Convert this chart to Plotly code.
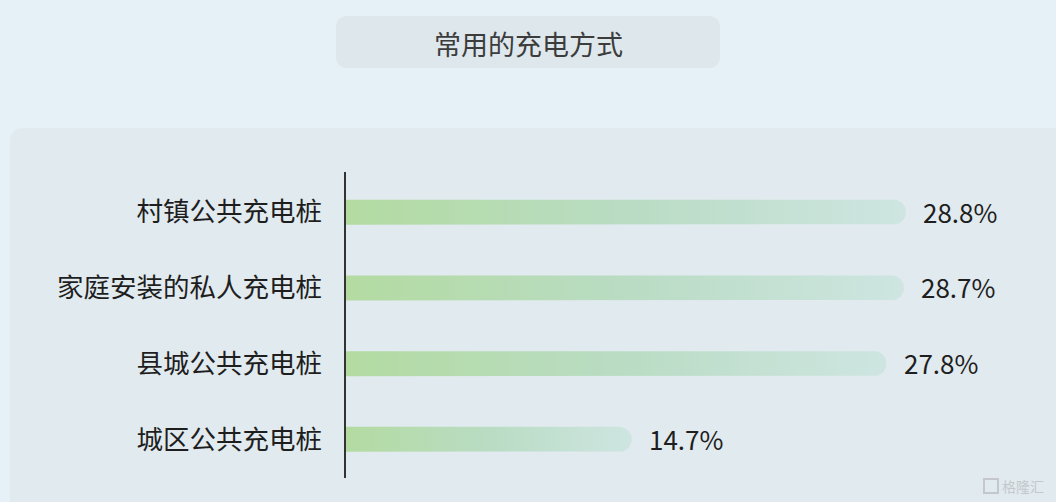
import numpy as np
import plotly.graph_objects as go

# ---- data ----
categories = ["村镇公共充电桩", "家庭安装的私人充电桩", "县城公共充电桩", "城区公共充电桩"]
values = [28.8, 28.7, 27.8, 14.7]
value_labels = ["28.8%", "28.7%", "27.8%", "14.7%"]
title_text = "常用的充电方式"

# ---- layout geometry (pixels) ----
W, H = 1056, 502
ML, MR, MT, MB = 346, 10, 172, 24
PW, PH = W - ML - MR, H - MT - MB
XMAX = 36.0
Y_RANGE = [3.51, -0.53]
BAR_H_PX = 25

px_per_x = PW / XMAX
px_per_y = PH / (Y_RANGE[0] - Y_RANGE[1])
rx = (BAR_H_PX / 2) / px_per_x
ry = (BAR_H_PX / 2) / px_per_y

FONT = "Noto Sans CJK SC, Noto Sans, sans-serif"
GRAD = [[0, "#b3dba1"], [0.5, "#b9dcc3"], [1, "#cee5e1"]]

fig = go.Figure()

theta = np.linspace(-np.pi / 2, np.pi / 2, 25)
for i, (cat, v) in enumerate(zip(categories, values)):
    x_end = v - rx
    xs = [0, x_end] + list(x_end + rx * np.cos(theta)) + [x_end, 0, 0]
    ys = [i + ry, i + ry] + list(i - ry * np.sin(theta)) + [i - ry, i - ry, i + ry]
    fig.add_trace(go.Scatter(
        x=xs, y=ys, mode="lines", fill="toself", line=dict(width=0),
        fillgradient=dict(type="horizontal", colorscale=GRAD),
        hoverinfo="skip", showlegend=False))

for i, (v, lab) in enumerate(zip(values, value_labels)):
    fig.add_annotation(x=v, y=i, text=lab, xanchor="left", yanchor="middle",
                       xshift=15, yshift=1, showarrow=False,
                       font=dict(family=FONT, size=26, color="#1e1e1e"))


def px_to_paper(px, py):
    return (px - ML) / PW, (H - MB - py) / PH


def rounded_rect(x0, y0, x1, y1, r):
    def P(x, y):
        a, b = px_to_paper(x, y)
        return f"{a:.5f},{b:.5f}"
    return (f"M {P(x0 + r, y0)} L {P(x1 - r, y0)} Q {P(x1, y0)} {P(x1, y0 + r)} "
            f"L {P(x1, y1 - r)} Q {P(x1, y1)} {P(x1 - r, y1)} "
            f"L {P(x0 + r, y1)} Q {P(x0, y1)} {P(x0, y1 - r)} "
            f"L {P(x0, y0 + r)} Q {P(x0, y0)} {P(x0 + r, y0)} Z")

fig.add_shape(type="path", xref="paper", yref="paper", layer="below",
              path=rounded_rect(10, 128, 1070, 520, 14),
              fillcolor="#e1eaef", line=dict(width=0))
fig.add_shape(type="path", xref="paper", yref="paper", layer="below",
              path=rounded_rect(336, 16, 720, 68, 12),
              fillcolor="#dee7ec", line=dict(width=0))

tx, ty = px_to_paper(528, 44)
fig.add_annotation(x=tx, y=ty, xref="paper", yref="paper", text=title_text,
                   showarrow=False, xanchor="center", yanchor="middle",
                   font=dict(family=FONT, size=27, color="#3c3c3c"))

# watermark
wx, wy = px_to_paper(1046, 486)
fig.add_annotation(x=wx, y=wy, xref="paper", yref="paper", text="格隆汇",
                   showarrow=False, xanchor="right", yanchor="middle",
                   font=dict(family=FONT, size=14, color="#c4c8cc"))
sx0, sy0 = px_to_paper(984, 479)
sx1, sy1 = px_to_paper(998, 493)
fig.add_shape(type="rect", xref="paper", yref="paper", x0=sx0, y0=sy0, x1=sx1, y1=sy1,
              line=dict(color="#c4c8cc", width=2), fillcolor="rgba(0,0,0,0)")

fig.update_xaxes(range=[0, XMAX], visible=False, fixedrange=True)
fig.update_yaxes(range=Y_RANGE, tickmode="array", tickvals=list(range(len(categories))),
                 ticktext=categories, showline=True, linecolor="#333333", linewidth=1.5,
                 showgrid=False, zeroline=False, ticks="", ticklabelstandoff=17,
                 tickfont=dict(family=FONT, size=26.5, color="#1e1e1e"), fixedrange=True)

fig.update_layout(width=W, height=H, margin=dict(l=ML, r=MR, t=MT, b=MB),
                  paper_bgcolor="#e6f0f7", plot_bgcolor="rgba(0,0,0,0)",
                  showlegend=False)

fig.write_html("out.html", config={"displayModeBar": False},
               post_script="document.body.style.margin='0px';document.body.style.overflow='hidden';")
